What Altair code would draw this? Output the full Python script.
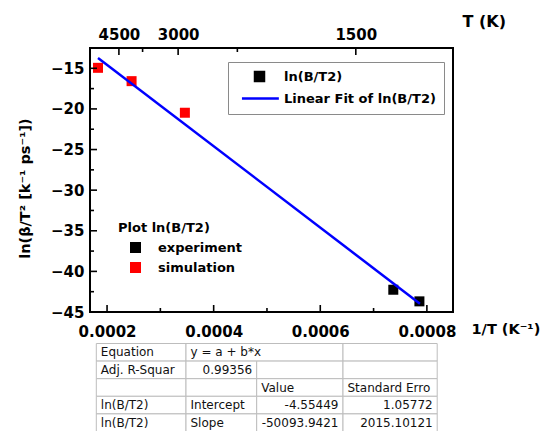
import altair as alt
import pandas as pd

# ---------------- data ----------------
exp_x = [0.000737, 0.000786]
exp_y = [-42.26, -43.69]
sim_x = [0.000183, 0.000246, 0.000346]
sim_y = [-14.94, -16.58, -20.47]
fit_x = [0.000183, 0.000787]
fit_y = [-13.72, -43.98]

x_major = [0.0002, 0.0004, 0.0006, 0.0008]
x_minor = [0.0003, 0.0005, 0.0007]
y_major = [-45, -40, -35, -30, -25, -20, -15]
y_minor = [-42.5, -37.5, -32.5, -27.5, -22.5, -17.5]
t_major = [4500, 3000, 1500]
t_minor = [3750, 2250]

series_names = ["ln(B/T2)", "Linear Fit of ln(B/T2)"]
source_names = ["experiment", "simulation"]

tbl_c1 = ["Equation", "Adj. R-Squar", "", "ln(B/T2)", "ln(B/T2)"]
tbl_c2 = ["y = a + b*x", "0.99356", "", "Intercept", "Slope"]
tbl_c3 = ["", "", "Value", "-4.55449", "-50093.9421"]
tbl_c4 = ["", "", "Standard Erro", "1.05772", "2015.10121"]

# ---------------- layout ----------------
W, H = 363, 264
FONT = "DejaVu Sans"
col_w = [89.7, 70.7, 86.3, 94.2]
tbl_left, tbl_top, row_h = 6.3, 295.5, 17.6
pad_txt = 4.5


def xs():
    return alt.Scale(domain=[0.000168, 0.000849], nice=False, zero=False)


def ys():
    return alt.Scale(domain=[-45, -12.5], nice=False, zero=False)


pts_df = pd.DataFrame({
    "x": exp_x + sim_x,
    "y": exp_y + sim_y,
    "source": [source_names[0]] * len(exp_x) + [source_names[1]] * len(sim_x),
    "series": series_names[0],
})
fit_df = pd.DataFrame({"x": fit_x, "y": fit_y, "series": series_names[1]})

legA_kw = dict(orient="none", legendX=138, legendY=14, title=None,
               strokeColor="#8a8a8a", padding=8, labelFont=FONT,
               labelFontWeight="bold", labelFontSize=13, labelColor="black",
               labelLimit=400, symbolSize=81, symbolStrokeWidth=2.5,
               symbolFillColor="black", symbolOffset=17, labelOffset=18,
               rowPadding=6)

axis_lbl = dict(labelFont=FONT, labelFontWeight="bold", labelFontSize=15,
                labelColor="black", ticks=False, domain=False, grid=False,
                labelFlush=False, labelOverlap=False, labelBound=False,
                titleFont=FONT, titleFontWeight="bold",
                titleColor="black")

pts = alt.Chart(pts_df).mark_point(filled=True, size=100, opacity=1).encode(
    x=alt.X("x:Q", scale=xs(), axis=alt.Axis(
        orient="bottom", values=x_major, format=".4f", labelPadding=12,
        title="1/T (K⁻¹)", titleX=381, titleY=17, titleAlign="left",
        titleBaseline="middle", titleAngle=0, titleFontSize=14.5, **axis_lbl)),
    y=alt.Y("y:Q", scale=ys(), axis=alt.Axis(
        orient="left", values=y_major, labelPadding=6,
        title="ln(β/T² [k⁻¹ ps⁻¹])", titleX=-65, titleY=140, titleAngle=-90,
        titleAlign="center", titleBaseline="middle", titleFontSize=14.5,
        **axis_lbl)),
    fill=alt.Fill("source:N", scale=alt.Scale(domain=source_names,
                  range=["#000000", "#ff0000"]),
                  legend=alt.Legend(orient="none", legendX=28, legendY=174,
                                    title="Plot ln(B/T2)", titleFont=FONT,
                                    titleFontWeight="bold", titleFontSize=13,
                                    titleColor="black", titlePadding=6,
                                    padding=0, symbolType="square",
                                    symbolSize=121, symbolStrokeWidth=0,
                                    symbolOffset=11, labelOffset=16,
                                    labelFont=FONT, labelFontWeight="bold",
                                    labelFontSize=13, labelColor="black",
                                    rowPadding=6)),
    shape=alt.Shape("series:N", scale=alt.Scale(domain=series_names,
                    range=["square", "M-3.9,0H4.3"]),
                    legend=alt.Legend(**legA_kw)),
)

fit = alt.Chart(fit_df).mark_line(strokeWidth=2.5).encode(
    x=alt.X("x:Q", scale=xs(), axis=None),
    y=alt.Y("y:Q", scale=ys(), axis=None),
    stroke=alt.Stroke("series:N", scale=alt.Scale(domain=series_names,
                      range=["#000000", "#0000ff"]),
                      legend=alt.Legend(**legA_kw)),
)

tick_style = dict(color="black", strokeWidth=1.6)


def vticks(vals, length):
    df = pd.DataFrame({"v": vals})
    return alt.Chart(df).mark_rule(**tick_style).encode(
        y=alt.Y("v:Q", scale=ys(), axis=None),
        x=alt.value(0), x2=alt.value(length))


def bticks(vals, length):
    df = pd.DataFrame({"v": vals})
    return alt.Chart(df).mark_rule(**tick_style).encode(
        x=alt.X("v:Q", scale=xs(), axis=None),
        y=alt.value(H), y2=alt.value(H - length))


top_major_df = pd.DataFrame({"v": [1.0 / t for t in t_major]})
top_minor_df = pd.DataFrame({"v": [1.0 / t for t in t_minor]})

top_major = alt.Chart(top_major_df).mark_rule(**tick_style).encode(
    x=alt.X("v:Q", scale=xs(), axis=alt.Axis(
        orient="top", values=[1.0 / t for t in t_major],
        labelExpr="round(1/datum.value)", labelPadding=6,
        title="T (K)", titleX=372, titleY=-27, titleAlign="left",
        titleBaseline="middle", titleFontSize=16, **axis_lbl)),
    y=alt.value(0), y2=alt.value(7))

top_minor = alt.Chart(top_minor_df).mark_rule(**tick_style).encode(
    x=alt.X("v:Q", scale=xs(), axis=None),
    y=alt.value(0), y2=alt.value(4))

# ---------------- table ----------------
edges = [0.0]
for w in col_w:
    edges.append(edges[-1] + w)
cols = [tbl_c1, tbl_c2, tbl_c3, tbl_c4]
nrows = len(tbl_c1)

cells, texts = [], []
for r in range(nrows):
    c = 0
    while c < len(cols):
        span = 2 if (r == 0 and c == 1) else 1
        cells.append({"x0": edges[c], "x1": edges[c + span], "r0": r, "r1": r + 1})
        c += span
    for c, col in enumerate(cols):
        s = col[r]
        if not s:
            continue
        try:
            float(s)
            numeric = True
        except ValueError:
            numeric = False
        texts.append({"t": s, "r": r + 0.5,
                      "xa": edges[c + 1] - pad_txt if numeric else edges[c] + pad_txt,
                      "al": "right" if numeric else "left"})
cells_df = pd.DataFrame(cells)
texts_df = pd.DataFrame(texts)


def txs():
    return alt.Scale(domain=[0, edges[-1]], range=[tbl_left, tbl_left + edges[-1]],
                     nice=False, zero=False)


def tys():
    return alt.Scale(domain=[0, nrows], range=[tbl_top, tbl_top + nrows * row_h],
                     nice=False, zero=False)


cell_layer = alt.Chart(cells_df).mark_rect(fill="white", stroke="#bdbdbd", strokeWidth=1).encode(
    x=alt.X("x0:Q", scale=txs(), axis=None), x2="x1:Q",
    y=alt.Y("r0:Q", scale=tys(), axis=None), y2="r1:Q")


def txt_layer(align):
    return alt.Chart(texts_df).transform_filter(
        alt.datum.al == align).mark_text(
        align=align, baseline="middle", font=FONT, fontSize=12, color="#111111").encode(
        x=alt.X("xa:Q", scale=txs(), axis=None),
        y=alt.Y("r:Q", scale=tys(), axis=None),
        text="t:N")


chart = alt.layer(
    pts, fit,
    vticks(y_major, 7), vticks(y_minor, 4),
    bticks(x_major, 7), bticks(x_minor, 4),
    top_major, top_minor,
    cell_layer, txt_layer("left"), txt_layer("right"),
).resolve_scale(
    x="independent", y="independent"
).resolve_axis(
    x="independent", y="independent"
).properties(
    width=W, height=H,
    padding={"left": 90, "top": 48, "right": 541 - 90 - W, "bottom": 431 - 48 - H},
    autosize=alt.AutoSizeParams(type="none"),
    background="white",
).configure_view(stroke="black", strokeWidth=2).configure_axis(grid=False)

chart.save("out.html", embed_options={"renderer": "svg", "actions": False})
